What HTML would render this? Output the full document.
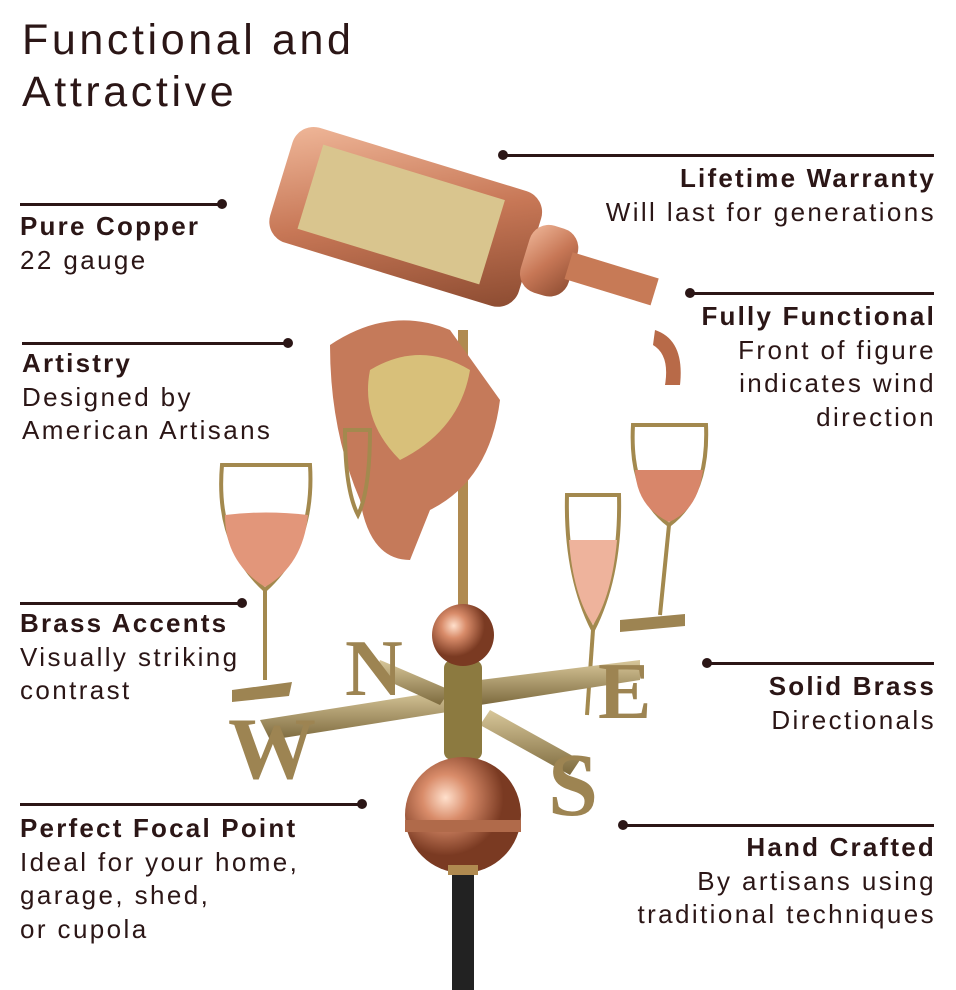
<!DOCTYPE html>
<html><head><meta charset="utf-8"><style>
body{margin:0;width:956px;height:990px;background:#fff;position:relative;overflow:hidden;font-family:"Liberation Sans",sans-serif;color:#2b1616}
.t{position:absolute;font-size:26px;line-height:33.5px;white-space:nowrap;letter-spacing:2.4px}
.t b{font-size:26px;letter-spacing:2.2px}
.r{text-align:right;right:20px}
.ln{position:absolute;height:3px;background:#2b1616}
.d{position:absolute;width:10px;height:10px;border-radius:50%;background:#2b1616}
h1{position:absolute;left:22px;top:14px;margin:0;font-weight:normal;font-size:43px;line-height:52px;letter-spacing:3.6px;color:#2b1616}
</style></head><body>
<svg style="position:absolute;left:0;top:0" width="956" height="990">
<defs>
<linearGradient id="cu" x1="0" y1="0" x2="1" y2="1"><stop offset="0" stop-color="#f0b89a"/><stop offset="0.5" stop-color="#c77756"/><stop offset="1" stop-color="#8a4a30"/></linearGradient>
<linearGradient id="br" x1="0" y1="0" x2="0" y2="1"><stop offset="0" stop-color="#d8c79a"/><stop offset="1" stop-color="#7d6a3e"/></linearGradient>
<radialGradient id="ball" cx="0.35" cy="0.35"><stop offset="0" stop-color="#ffe0cc"/><stop offset="0.4" stop-color="#d98c6a"/><stop offset="1" stop-color="#7a3a22"/></radialGradient>
</defs>
<rect x="452" y="870" width="22" height="120" fill="#222"/>
<rect x="458" y="330" width="10" height="290" fill="#b08a50"/>
<g transform="rotate(17 430 240)">
<rect x="270" y="165" width="260" height="120" rx="22" fill="url(#cu)"/>
<rect x="300" y="180" width="190" height="88" fill="#d9c58e"/>
<rect x="525" y="190" width="50" height="70" rx="20" fill="url(#cu)"/>
<rect x="570" y="210" width="90" height="28" fill="#c77a56"/>
</g>
<path d="M655 330 q30 10 25 55 l-15 0 q5-30-12-40z" fill="#b86a48"/>
<path d="M330 345 q60-40 120-15 l50 70 q-10 80-70 110 l-20 50 q-40 0-50-60 q-30-70-30-155z" fill="#c57a5a"/>
<path d="M370 370 q50-30 100 0 q-10 60-70 90 q-40-40-30-90z" fill="#d8c07a"/>
<g fill="none" stroke="#a3894e" stroke-width="4">
<path d="M222 465 h88 q5 80-45 125 q-50-45-43-125z"/><line x1="265" y1="590" x2="265" y2="680"/>
<path d="M633 425 h73 q3 70-37 100 q-40-30-36-100z"/><line x1="669" y1="525" x2="660" y2="615"/>
<path d="M567 495 h52 q2 80-26 135 q-28-55-26-135z"/><line x1="593" y1="630" x2="587" y2="715"/>
<path d="M345 430 h25 q0 60-12 85 q-13-25-13-85z"/>
</g>
<path d="M225 515 q40-5 83 0 q-5 50-43 72 q-40-25-40-72z" fill="#e2967a"/>
<path d="M635 470 h68 q-5 40-34 52 q-32-15-34-52z" fill="#d8866a"/>
<path d="M569 540 h48 q-5 55-24 85 q-20-30-24-85z" fill="#eeb39c"/>
<path d="M260 720 L450 690 L460 710 L270 740z" fill="url(#br)"/>
<path d="M480 680 L640 660 L640 680 L480 705z" fill="url(#br)"/>
<path d="M380 660 L450 690 L440 705 L375 675z" fill="url(#br)"/>
<path d="M490 710 L580 760 L570 775 L480 725z" fill="url(#br)"/>
<rect x="444" y="660" width="38" height="100" rx="8" fill="#8c7a40"/>
<text x="228" y="778" font-family="Liberation Serif,serif" font-weight="bold" font-size="88" fill="#9d8452">W</text>
<text x="345" y="695" font-family="Liberation Serif,serif" font-weight="bold" font-size="80" fill="#9d8452">N</text>
<text x="598" y="718" font-family="Liberation Serif,serif" font-weight="bold" font-size="80" fill="#9d8452">E</text>
<text x="548" y="815" font-family="Liberation Serif,serif" font-weight="bold" font-size="90" fill="#9d8452">S</text>
<path d="M232 690 l60 -8 l-3 14 l-57 6z M620 620 l65 -6 v12 l-65 6z" fill="#9d8452"/>
<circle cx="463" cy="635" r="31" fill="url(#ball)"/>
<circle cx="463" cy="815" r="58" fill="url(#ball)"/>
<rect x="405" y="820" width="116" height="12" fill="#b06a4a"/>
<rect x="448" y="865" width="30" height="10" fill="#b08a50"/>
</svg>

<h1>Functional and<br>Attractive</h1>

<div class="ln" style="left:20px;top:203px;width:202px"></div><div class="d" style="left:217px;top:199px"></div>
<div class="t" style="left:20px;top:210px"><b>Pure Copper</b><br>22 gauge</div>

<div class="ln" style="left:22px;top:342px;width:266px"></div><div class="d" style="left:283px;top:338px"></div>
<div class="t" style="left:22px;top:347px"><b>Artistry</b><br>Designed by<br>American Artisans</div>

<div class="ln" style="left:20px;top:602px;width:222px"></div><div class="d" style="left:237px;top:598px"></div>
<div class="t" style="left:20px;top:607px"><b>Brass Accents</b><br>Visually striking<br>contrast</div>

<div class="ln" style="left:20px;top:803px;width:342px"></div><div class="d" style="left:357px;top:799px"></div>
<div class="t" style="left:20px;top:812px"><b>Perfect Focal Point</b><br>Ideal for your home,<br>garage, shed,<br>or cupola</div>

<div class="ln" style="left:503px;top:154px;width:431px"></div><div class="d" style="left:498px;top:150px"></div>
<div class="t r" style="top:162px"><b>Lifetime Warranty</b><br>Will last for generations</div>

<div class="ln" style="left:690px;top:292px;width:244px"></div><div class="d" style="left:685px;top:288px"></div>
<div class="t r" style="top:300px"><b>Fully Functional</b><br>Front of figure<br>indicates wind<br>direction</div>

<div class="ln" style="left:707px;top:662px;width:227px"></div><div class="d" style="left:702px;top:658px"></div>
<div class="t r" style="top:670px"><b>Solid Brass</b><br>Directionals</div>

<div class="ln" style="left:623px;top:824px;width:311px"></div><div class="d" style="left:618px;top:820px"></div>
<div class="t r" style="top:831px"><b>Hand Crafted</b><br>By artisans using<br>traditional techniques</div>
</body></html>
